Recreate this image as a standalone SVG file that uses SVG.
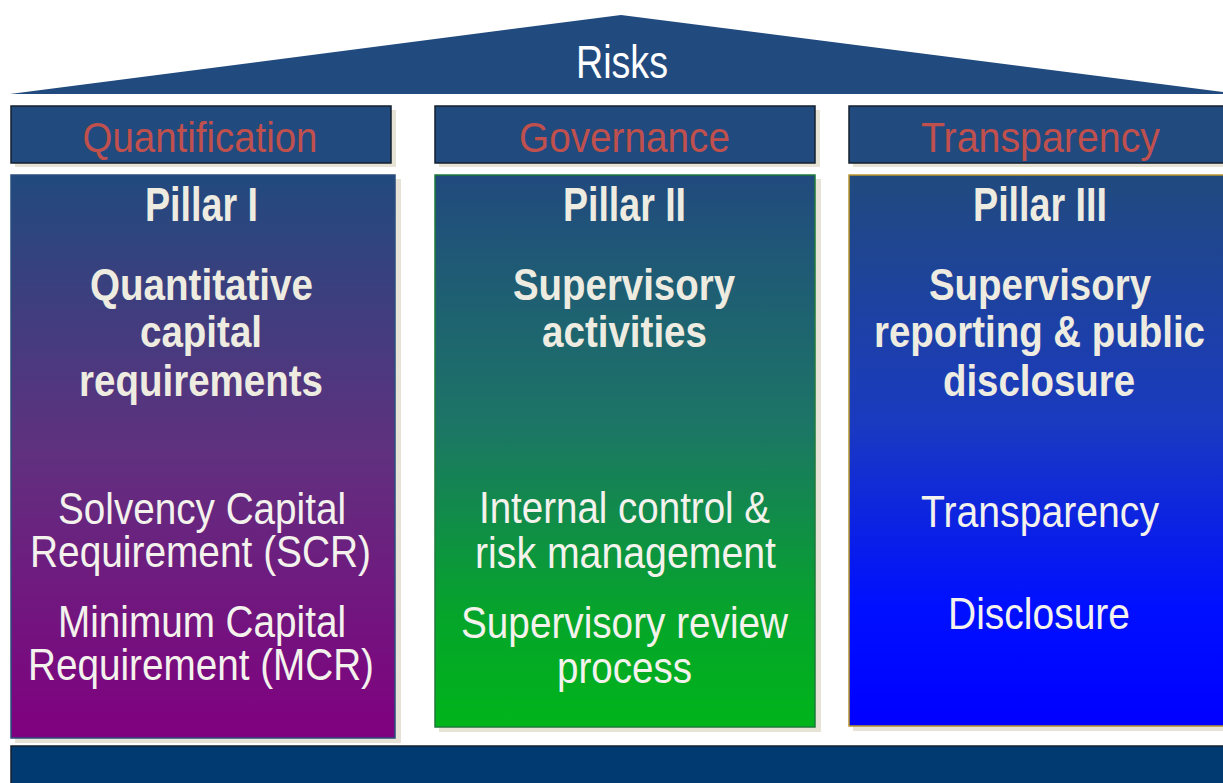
<svg xmlns="http://www.w3.org/2000/svg" width="1223" height="783" viewBox="0 0 1223 783">
<style>
.shadow{fill:#E6E2D6}
.hdr{fill:#214A7E;stroke:#15202E;stroke-width:1.5}
.htxt{font-family:"Liberation Sans",Arial,sans-serif;font-size:43px;fill:#C0504D;text-anchor:middle}
.title{font-family:"Liberation Sans",Arial,sans-serif;font-weight:bold;fill:#EEECE1;text-anchor:middle}
.t1{font-size:48px}
.t2{font-size:44px}
.body{font-family:"Liberation Sans",Arial,sans-serif;font-size:44px;fill:#F4F2EC;text-anchor:middle}
</style>
<defs>
<linearGradient id="gP1" x1="0" y1="0" x2="0" y2="1">
<stop offset="0" stop-color="#214A7E"/>
<stop offset="0.5" stop-color="#61307F"/>
<stop offset="1" stop-color="#80007F"/>
</linearGradient>
<linearGradient id="gP2" x1="0" y1="0" x2="0" y2="1">
<stop offset="0" stop-color="#214A7E"/>
<stop offset="0.45" stop-color="#1C7566"/>
<stop offset="0.8" stop-color="#05A52A"/>
<stop offset="1" stop-color="#00B41A"/>
</linearGradient>
<linearGradient id="gP3" x1="0" y1="0" x2="0" y2="1">
<stop offset="0" stop-color="#214A7E"/>
<stop offset="0.45" stop-color="#1A3AC0"/>
<stop offset="0.78" stop-color="#0010FF"/>
<stop offset="1" stop-color="#0000FF"/>
</linearGradient>
</defs>
<rect width="1223" height="783" fill="#FFFFFF"/>

<g id="roof">
<polygon points="10,94 621,15 1223,92 1223,94" fill="#214A7E"/>
<text x="622" y="78" font-family="'Liberation Sans',Arial,sans-serif" font-size="46" fill="#FFFFFF" text-anchor="middle" textLength="92" lengthAdjust="spacingAndGlyphs">Risks</text>
</g>

<g id="header-quantification">
<rect class="shadow" x="15" y="110" width="381" height="57"/>
<rect class="hdr" x="11" y="106" width="380" height="57"/>
<text class="htxt" x="200" y="152" textLength="235" lengthAdjust="spacingAndGlyphs">Quantification</text>
</g>
<g id="header-governance">
<rect class="shadow" x="439" y="110" width="381" height="57"/>
<rect class="hdr" x="435" y="106" width="380" height="57"/>
<text class="htxt" x="624.5" y="152" textLength="211" lengthAdjust="spacingAndGlyphs">Governance</text>
</g>
<g id="header-transparency">
<rect class="shadow" x="853" y="110" width="381" height="57"/>
<rect class="hdr" x="849" y="106" width="380" height="57"/>
<text class="htxt" x="1040.5" y="152" textLength="239" lengthAdjust="spacingAndGlyphs">Transparency</text>
</g>

<g id="pillar-1">
<rect class="shadow" x="15" y="179" width="386" height="564"/>
<rect x="11" y="175" width="384" height="563" fill="url(#gP1)" stroke="#2A4E7E" stroke-width="1.5"/>
<text class="title t1" x="201.5" y="221" textLength="113" lengthAdjust="spacingAndGlyphs">Pillar I</text>
<text class="title t2" x="201.5" y="300" textLength="223" lengthAdjust="spacingAndGlyphs">Quantitative</text>
<text class="title t2" x="201" y="347" textLength="122" lengthAdjust="spacingAndGlyphs">capital</text>
<text class="title t2" x="201" y="396" textLength="244" lengthAdjust="spacingAndGlyphs">requirements</text>
<text class="body" x="202" y="524" textLength="288" lengthAdjust="spacingAndGlyphs">Solvency Capital</text>
<text class="body" x="200.5" y="567" textLength="341" lengthAdjust="spacingAndGlyphs">Requirement (SCR)</text>
<text class="body" x="202" y="637" textLength="288" lengthAdjust="spacingAndGlyphs">Minimum Capital</text>
<text class="body" x="201" y="680" textLength="346" lengthAdjust="spacingAndGlyphs">Requirement (MCR)</text>
</g>

<g id="pillar-2">
<rect class="shadow" x="439" y="179" width="382" height="553"/>
<rect x="435" y="175" width="380" height="552" fill="url(#gP2)" stroke="#1E7A3A" stroke-width="1.5"/>
<text class="title t1" x="624.5" y="221" textLength="123" lengthAdjust="spacingAndGlyphs">Pillar II</text>
<text class="title t2" x="624" y="300" textLength="222" lengthAdjust="spacingAndGlyphs">Supervisory</text>
<text class="title t2" x="624.5" y="347" textLength="165" lengthAdjust="spacingAndGlyphs">activities</text>
<text class="body" x="624.5" y="523" textLength="291" lengthAdjust="spacingAndGlyphs">Internal control &amp;</text>
<text class="body" x="625.5" y="568" textLength="301" lengthAdjust="spacingAndGlyphs">risk management</text>
<text class="body" x="624.5" y="638" textLength="327" lengthAdjust="spacingAndGlyphs">Supervisory review</text>
<text class="body" x="624.5" y="683" textLength="135" lengthAdjust="spacingAndGlyphs">process</text>
</g>

<g id="pillar-3">
<rect class="shadow" x="853" y="179" width="382" height="552"/>
<rect x="849" y="175" width="382" height="551" fill="url(#gP3)" stroke="#B8962E" stroke-width="1.5"/>
<text class="title t1" x="1040" y="221" textLength="134" lengthAdjust="spacingAndGlyphs">Pillar III</text>
<text class="title t2" x="1040" y="300" textLength="222" lengthAdjust="spacingAndGlyphs">Supervisory</text>
<text class="title t2" x="1039.5" y="347" textLength="331" lengthAdjust="spacingAndGlyphs">reporting &amp; public</text>
<text class="title t2" x="1039" y="396" textLength="192" lengthAdjust="spacingAndGlyphs">disclosure</text>
<text class="body" x="1040" y="527" textLength="238" lengthAdjust="spacingAndGlyphs">Transparency</text>
<text class="body" x="1039" y="629" textLength="182" lengthAdjust="spacingAndGlyphs">Disclosure</text>
</g>

<g id="foundation">
<rect x="11" y="746" width="1220" height="45" fill="#003A70" stroke="#15202E" stroke-width="1.5"/>
</g>

<g id="connectors"></g>
</svg>
